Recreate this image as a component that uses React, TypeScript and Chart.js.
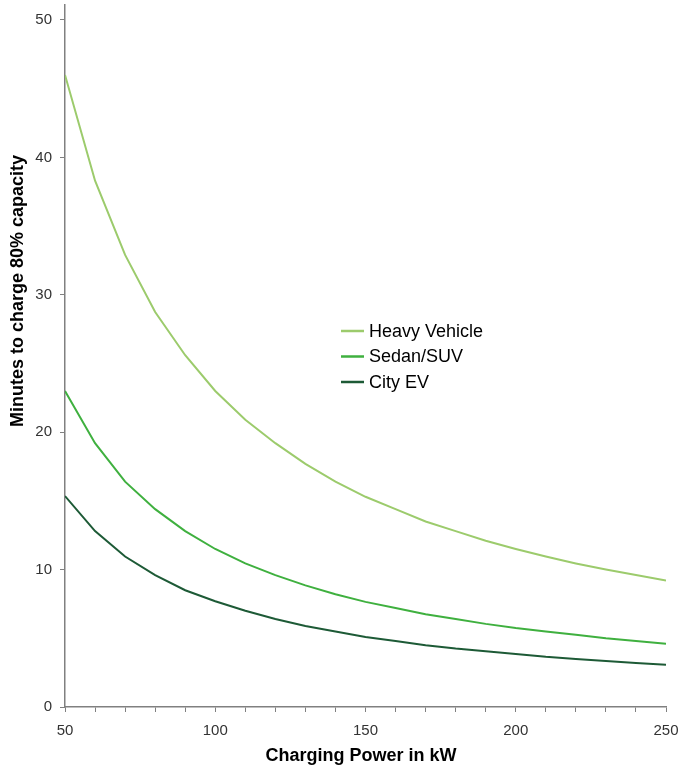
import React, { useEffect, useRef } from "react";
import { Chart, registerables } from "chart.js";

Chart.register(...registerables);

const chargingPower = [50, 60, 70, 80, 90, 100, 110, 120, 130, 140, 150, 160, 170, 180, 190, 200, 210, 220, 230, 240, 250];
const heavyVehicle = [46, 38.3, 32.9, 28.75, 25.6, 23, 20.9, 19.2, 17.7, 16.4, 15.3, 14.4, 13.5, 12.8, 12.1, 11.5, 10.95, 10.45, 10, 9.6, 9.2];
const sedanSuv = [23, 19.2, 16.4, 14.4, 12.8, 11.5, 10.45, 9.6, 8.85, 8.2, 7.65, 7.2, 6.75, 6.4, 6.05, 5.75, 5.5, 5.25, 5.0, 4.8, 4.6];
const cityEv = [15.35, 12.8, 10.95, 9.6, 8.5, 7.7, 7.0, 6.4, 5.9, 5.5, 5.1, 4.8, 4.5, 4.25, 4.05, 3.85, 3.65, 3.5, 3.35, 3.2, 3.07];
const seriesNames = ["Heavy Vehicle", "Sedan/SUV", "City EV"];
const yTickValues = [0, 10, 20, 30, 40, 50];
const xLabelValues = [50, 100, 150, 200, 250];
const xTitle = "Charging Power in kW";
const yTitle = "Minutes to charge 80% capacity";

const FONT = "'Liberation Sans', Arial, sans-serif";

const overlayPlugin = {
  id: "overlayText",
  afterDraw(chart: any) {
    const ctx = chart.ctx;
    ctx.save();
    // legend
    const x0 = 341;
    const y0 = 331;
    const gap = 25.5;
    ctx.font = `18px ${FONT}`;
    ctx.textBaseline = "middle";
    ctx.textAlign = "left";
    chart.data.datasets.forEach((ds: any, i: number) => {
      const y = y0 + i * gap;
      ctx.strokeStyle = ds.borderColor;
      ctx.lineWidth = 2.5;
      ctx.beginPath();
      ctx.moveTo(x0, y);
      ctx.lineTo(x0 + 23, y);
      ctx.stroke();
      ctx.fillStyle = "#000";
      ctx.fillText(ds.label, x0 + 28, y + 1);
    });
    // axis titles
    ctx.font = `bold 18px ${FONT}`;
    ctx.textAlign = "center";
    ctx.fillStyle = "#000";
    ctx.fillText(xTitle, 361, 756);
    ctx.translate(18, 291);
    ctx.rotate(-Math.PI / 2);
    ctx.fillText(yTitle, 0, 0);
    ctx.restore();
  },
};

export default function App() {
  const ref = useRef<HTMLCanvasElement>(null);
  useEffect(() => {
    document.body.style.margin = "0";
    const colors = ["#9ccb6c", "#3fb03f", "#1d5a36"];
    const values = [heavyVehicle, sedanSuv, cityEv];
    const chart = new Chart(ref.current!, {
      type: "line",
      data: {
        datasets: seriesNames.map((name, i) => ({
          label: name,
          data: chargingPower.map((x, j) => ({ x, y: values[i][j] })),
          borderColor: colors[i],
          backgroundColor: colors[i],
          borderWidth: 2,
          pointRadius: 0,
          tension: 0,
          fill: false,
        })),
      },
      options: {
        responsive: false,
        animation: false,
        layout: { padding: { top: 5, right: 13, left: 0, bottom: 0 } },
        plugins: { legend: { display: false }, tooltip: { enabled: false } },
        scales: {
          x: {
            type: "linear",
            min: 50,
            max: 250,
            afterFit(s: any) {
              s.height = 60;
              s.paddingLeft = 0;
              s.paddingRight = 0;
            },
            afterBuildTicks(s: any) {
              s.ticks = chargingPower.map((v) => ({ value: v }));
            },
            ticks: {
              autoSkip: false,
              maxRotation: 0,
              padding: 10,
              color: "#333",
              font: { family: FONT, size: 15 },
              callback: (v: any) => (xLabelValues.includes(v) ? String(v) : ""),
            },
            grid: { drawOnChartArea: false, tickLength: 5, color: "#808080", lineWidth: 1 },
            border: { color: "#808080", width: 1.5 },
            title: { display: false },
          },
          y: {
            type: "linear",
            min: 0,
            max: 51.09,
            afterFit(s: any) {
              s.width = 65;
              s.paddingTop = 0;
              s.paddingBottom = 0;
            },
            afterBuildTicks(s: any) {
              s.ticks = yTickValues.map((v) => ({ value: v }));
            },
            ticks: {
              padding: 8,
              color: "#333",
              font: { family: FONT, size: 15 },
            },
            grid: { drawOnChartArea: false, tickLength: 5, color: "#808080", lineWidth: 1 },
            border: { color: "#808080", width: 1.5 },
            title: { display: false },
          },
        },
      },
      plugins: [overlayPlugin],
    });
    return () => chart.destroy();
  }, []);
  return (
    <div style={{ width: 679, height: 767 }}>
      <canvas ref={ref} width={679} height={767} style={{ display: "block", width: 679, height: 767 }} />
    </div>
  );
}
